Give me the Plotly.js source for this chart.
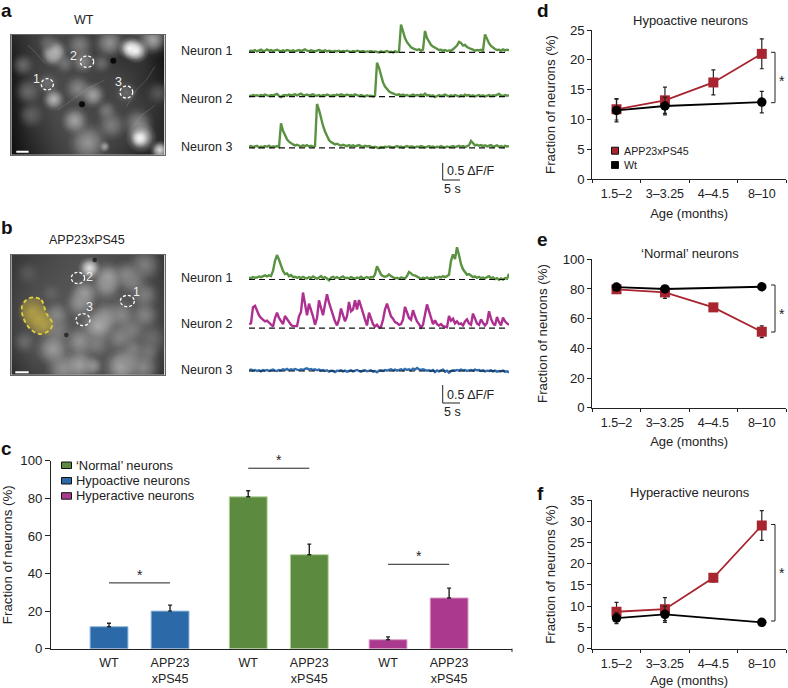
<!DOCTYPE html>
<html><head><meta charset="utf-8">
<script src="https://cdn.plot.ly/plotly-3.0.1.min.js"></script>
<style>html,body{margin:0;padding:0;background:#fff}</style></head>
<body><div id="chart" style="width:788px;height:688px"></div>
<script>
// ---------- DATA ----------
const ageGroups = ['1.5–2','3–3.25','4–4.5','8–10'];

const hypoApp = [11.7,13.2,16.2,21];      const hypoAppErr = [1.8,2.2,2.1,2.5];
const hypoWt  = [11.5,12.25,null,12.9];   const hypoWtErr  = [1.9,1.5,0,1.8];
const normApp = [79.8,77.7,67.6,51.2];    const normAppErr = [1.5,4,1.5,4];
const normWt  = [81.3,80,null,81.5];      const normWtErr  = [1,1,0,1];
const hyperApp = [8.7,9.3,16.7,29];       const hyperAppErr = [2.2,2.7,1,3.5];
const hyperWt  = [7.2,8.1,null,6.2];      const hyperWtErr  = [1.3,1.9,0,.7];

const barPositions = [1,2,3.28,4.28,5.57,6.57];
const barLabels = ['WT','APP23<br>xPS45','WT','APP23<br>xPS45','WT','APP23<br>xPS45'];
const hypoBars = [11.7,20];   const hypoBarsErr = [1.8,3.2];
const normBars = [80.8,50];   const normBarsErr = [3.2,5.6];
const hyperBars = [4.8,27];   const hyperBarsErr = [1.5,5.2];

// calcium traces, ΔF/F, one sample every 0.578 s
const sampleStep = 0.578;
const wtN1 = [.03,.05,.04,.07,.03,.06,.08,.04,.05,.09,.05,.07,.04,.06,.08,.05,.03,.06,.04,.07,.05,.04,.06,.03,.05,.07,.04,.06,.09,.05,.04,.06,.05,.03,.05,.07,.05,.04,.06,.03,.05,.04,.02,.04,.03,.05,.02,.04,.03,.05,.03,.01,.04,.02,.05,.03,.02,.04,.01,.03,.02,.04,.01,.03,.02,.00,.03,.01,.02,.04,.01,.02,.00,.03,.01,.02,.82,.6,.42,.3,.22,.15,.12,.1,.07,.09,.06,.08,.63,.42,.3,.22,.17,.13,.1,.07,.08,.05,.07,.04,.06,.05,.09,.16,.2,.31,.28,.2,.22,.16,.12,.1,.08,.05,.07,.06,.08,.05,.53,.38,.27,.19,.13,.1,.07,.08,.05,.09,.06,.08,.06];
const wtN2 = [.03,.02,.05,.03,.04,.02,.05,.03,.06,.04,.02,.05,.03,.06,.08,.02,-.01,.04,.05,.03,.06,.04,.05,.07,.04,.06,.09,.05,.04,.06,.03,.05,.07,.04,.03,.05,.02,.05,.03,.06,.04,.02,.05,.03,.06,.04,.07,.05,.03,.06,.04,.05,.03,.07,.04,.02,.05,.03,.01,.04,.02,.03,.01,.03,1.0,.85,.6,.42,.3,.22,.16,.12,.09,.07,.05,.07,.04,.06,.03,.05,.02,.04,.06,.03,.05,.03,.06,.04,.09,.03,.05,.02,.04,-.01,.03,.05,.02,.04,.06,.03,.01,.04,.02,.05,.03,.01,.04,.02,.06,.03,.05,.02,.04,.01,.03,.05,.02,.04,.01,.03,.05,.02,.04,.03,.06,.08,.04,.02,.05,.03,.04];
const wtN3 = [.03,.05,.02,.04,.06,.01,.04,.02,.05,.03,.06,.02,.04,.03,.05,.02,.72,.5,.35,.25,.18,.13,.1,.07,.09,.06,.04,.07,.05,.08,.04,.06,.03,.05,1.29,1.12,.85,.65,.48,.33,.23,.17,.13,.1,.12,.08,.06,.09,.07,.05,.08,.05,.07,.04,.06,.08,.05,.03,.06,.04,.05,.03,.01,.03,.02,-.01,.02,.01,.03,.02,.04,.02,.01,.03,.05,.02,.04,.01,.03,.05,.02,.04,.03,.01,.04,.02,.05,.03,.01,.03,.05,.02,.04,.01,.03,.02,.05,.03,.01,.04,.02,.03,.05,.02,.04,.06,.03,.05,.02,.04,.07,.2,.12,.07,.09,.06,.08,.05,.07,.04,.06,.08,.03,.05,.07,.03,.05,.02,.06,.04,.05];
const appN1 = [.05,.04,.07,.05,.06,.09,.07,.1,.12,.09,.12,.1,.25,.55,.72,.58,.4,.25,.16,.18,.1,.13,.07,.08,.05,.07,.04,.08,.05,.03,.07,.04,.09,.05,.02,.06,.1,.04,.07,.03,-.02,.05,.08,.04,.07,.03,.06,.09,.04,.05,.03,.07,.05,.02,.06,.04,.08,.03,.05,.07,.04,.07,.06,.15,.39,.25,.15,.1,.08,.1,.15,.1,.06,.03,.05,.02,.06,.04,.03,.1,.22,.18,.13,.12,.08,.06,.02,.05,.03,.06,.02,.05,.03,.07,.05,.08,.06,.1,.07,.1,.14,.55,.74,.6,.95,.72,.45,.3,.22,.14,.16,.1,.07,.09,.05,.08,.04,.06,.03,.07,.1,.04,.06,.01,.04,-.01,.03,.0,.04,.02,.17];
const appN2 = [.12,.15,.62,.66,.52,.38,.3,.26,.2,.22,.16,.13,.05,.3,.46,.3,.2,.12,.36,.28,.18,.1,.06,.05,.06,.35,.48,1.05,.72,.38,.72,.55,.35,.1,.3,.82,.6,.38,.7,1.0,.75,.55,.35,.2,.08,.25,.58,.42,.2,.35,.77,.5,.55,.82,.55,.83,.6,.45,.25,.08,.46,.3,.12,.05,.1,.02,.04,.25,.55,.72,.55,.35,.28,.18,.15,.1,.12,.25,.63,.45,.3,.25,.53,.35,.2,.12,.02,.1,.4,.7,.5,.3,.12,.23,.12,.08,.12,.06,.05,.03,.36,.22,.28,.14,.2,.12,.14,.08,.2,.26,.14,.1,.43,.3,.14,.1,.26,.16,.08,.15,.5,.28,.14,.08,.33,.18,.08,.31,.2,.14,.1];
const appN3 = [.02,.04,.01,.03,.0,.02,-.01,.03,.01,.03,.0,.02,.04,.01,.0,.03,.02,.05,.03,.06,.02,.05,.03,.06,.04,.02,.05,.03,.06,.08,.04,.06,.03,.05,.02,.04,.01,.03,.0,.02,-.02,.01,.0,-.03,.01,.0,.02,-.01,.01,-.02,.0,.02,-.01,.01,.03,.0,-.02,.01,.02,-.01,.01,.02,-.02,.0,-.04,.01,.02,.0,.03,.01,.03,.05,.02,.04,.01,.03,.05,.02,.06,.03,.05,.02,.07,.04,.09,.05,.03,.05,.02,.01,.02,.0,.03,-.03,.02,-.01,.02,.04,-.02,.01,-.05,.0,.02,.01,.03,.01,.04,.02,.03,.0,.02,.03,.01,.04,.02,.03,.0,.02,-.01,.01,.0,.02,-.01,.01,-.02,.0,-.01,.01,-.02,-.01,-.04];

// micrographs: coarse background brightness and bright cell bodies
const imgCols = [10,76,142,208,274,340,406,470];
const imgRows = [14,86,158,230,302,375];
const imgABack = [[40,62,72,66,62,62,85,55],[28,60,70,75,66,52,50,20],[24,66,75,70,66,70,50,30],[24,60,75,75,66,70,60,44],[20,50,70,80,75,70,55,40],[16,38,60,75,70,55,38,45]];
const imgBBack = [[55,66,75,80,80,75,70,55],[60,75,80,85,85,80,75,60],[65,80,85,85,90,90,80,65],[65,80,85,90,90,90,85,65],[60,80,85,90,90,90,85,65],[45,65,75,80,80,80,70,50]];
const cellsAX = [140,135,215,305,435,225,170,280,45,120,118,60,210,255,137,70,295,200,310,390,355,450,240,400,395,290,455,365,385];
const cellsAY = [65,75,45,38,30,95,100,100,105,40,160,185,175,195,208,255,242,272,285,280,188,190,338,322,325,350,360,55,62];
const cellsASize = [28,26,30,34,30,26,22,22,26,24,24,30,30,28,24,30,24,30,32,34,24,28,42,32,18,12,20,24,26];
const cellsAGray = [190,170,130,150,170,140,120,110,110,110,115,110,140,170,190,100,125,170,130,140,110,90,155,220,255,170,230,255,255];
const cellsBX = [245,300,295,355,375,410,230,215,410,145,295,340,410,270,148,370,335,430,215,265,135,50,375,420,165,215,255,340,360,405,130,60];
const cellsBY = [55,82,108,75,95,45,130,160,135,195,200,195,195,228,240,240,262,265,275,280,297,275,298,305,355,345,348,350,335,352,130,70];
const cellsBSize = [24,34,32,32,32,38,32,32,32,30,32,32,32,38,32,32,32,34,34,30,38,26,26,26,38,36,22,38,32,38,22,26];
const cellsBGray = [240,165,150,140,130,130,160,150,130,140,150,140,135,175,130,130,135,110,150,130,160,110,130,120,150,165,150,170,140,140,100,90];
const yellowCellX = [72,90,108];
const yellowCellY = [185,207,225];
const yellowOutlineX = [75,100,115,133,125,95,65,45,42,55,75];
const yellowOutlineY = [142,150,190,220,240,252,235,200,170,150,142];
const spotsAX = [316,222]; const spotsAY = [92,223];
const spotsBX = [175,260]; const spotsBY = [255,30];
const dendriteAX = [60,85,110,null,440,415,385,355,null,150,200,240,290,null,375,400,430,440];
const dendriteAY = [45,70,100,null,110,150,180,230,null,240,205,175,150,null,290,255,235,225];

// ---------- LAYOUT HELPERS (pixel to paper) ----------
const W = 788, H = 688;
const fx = x => x / W, fy = y => 1 - y / H;
const TXT = '#222', FONT = 'Liberation Sans, Arial, sans-serif', FS = 12.5;
const GREEN = '#5a9242', PINK = '#ad2f90', BLUE = '#2f6db0', RED = '#a8242f';
const layout = {width:W, height:H, margin:{l:0,r:0,t:0,b:0}, paper_bgcolor:'#fff', plot_bgcolor:'rgba(0,0,0,0)',
  showlegend:false, barmode:'overlay', font:{family:FONT,size:FS,color:TXT}, annotations:[], shapes:[]};
const data = [];
const text = (x,y,t,o={}) => layout.annotations.push(Object.assign({xref:'paper',yref:'paper',x:fx(x),y:fy(y),text:t,showarrow:false,
  xanchor:'left',yanchor:'middle',font:{family:FONT,size:FS,color:TXT},borderpad:0},o));
const pline = (x0,y0,x1,y1,c='#222',w=1) => layout.shapes.push({type:'line',xref:'paper',yref:'paper',x0:fx(x0),y0:fy(y0),x1:fx(x1),y1:fy(y1),line:{color:c,width:w}});
let axisIdx = 0;
function addAxes(px0,px1,pyTop,pyBottom,xo,yo){
  axisIdx++;
  const s = axisIdx === 1 ? '' : axisIdx;
  layout['xaxis'+s] = Object.assign({domain:[fx(px0),fx(px1)],anchor:'y'+s,showgrid:false,zeroline:false},xo);
  layout['yaxis'+s] = Object.assign({domain:[fy(pyBottom),fy(pyTop)],anchor:'x'+s,showgrid:false,zeroline:false},yo);
  return {x:'x'+s,y:'y'+s};
}

// ---------- MICROGRAPHS ----------
const grayOf = g => `rgb(${g},${g},${g})`;
const clearOf = g => `rgba(${g},${g},${g},0)`;
function micrograph(top,bottom,back,cx,cy,cs,cg,sx,sy,spotSize,spotColor){
  const frame = {showline:true,mirror:true,linecolor:'#666',linewidth:1,showticklabels:false,ticks:''};
  const a = addAxes(11.3,164.7,top,bottom,Object.assign({range:[10,470]},frame),Object.assign({range:[375,14]},frame));
  data.push({type:'heatmap',x:imgCols,y:imgRows,z:back,zmin:0,zmax:255,zsmooth:'best',showscale:false,hoverinfo:'skip',
    colorscale:[[0,'#000'],[1,'#fff']],xaxis:a.x,yaxis:a.y});
  // outer soft halo, then a tighter core so each cell body has a flat top and a clearer edge
  [1,.72].forEach(k=>data.push({type:'scatter',mode:'markers',x:cx,y:cy,xaxis:a.x,yaxis:a.y,hoverinfo:'skip',
    marker:{size:cs.map(s=>s*k),color:cg.map(clearOf),line:{width:0},gradient:{type:'radial',color:cg.map(grayOf)}}}));
  data.push({type:'scatter',mode:'markers',x:sx,y:sy,xaxis:a.x,yaxis:a.y,hoverinfo:'skip',marker:{size:spotSize,color:spotColor}});
  return a;
}
function roi(a,cx,cy,rx,ry,label,lx,ly){
  layout.shapes.push({type:'circle',xref:a.x,yref:a.y,x0:cx-rx,x1:cx+rx,y0:cy-ry,y1:cy+ry,line:{color:'#fff',width:1.3,dash:'3px,2px'}});
  layout.annotations.push({xref:a.x,yref:a.y,x:lx,y:ly,text:label,showarrow:false,font:{family:FONT,size:12.5,color:'#eee'}});
}
const imgA = micrograph(34.7,155,imgABack,cellsAX,cellsAY,cellsASize,cellsAGray,spotsAX,spotsAY,6,'#0a0a0a');
data.push({type:'scatter',mode:'lines',x:dendriteAX,y:dendriteAY,xaxis:imgA.x,yaxis:imgA.y,hoverinfo:'skip',line:{color:'rgba(170,170,170,.28)',width:1}});
roi(imgA,118,163,18,17,'1',87,147); roi(imgA,237,95,20,17,'2',198,78); roi(imgA,355,186,19,18,'3',330,155);
layout.shapes.push({type:'line',xref:imgA.x,yref:imgA.y,x0:25,x1:62,y0:365,y1:365,line:{color:'#fff',width:2}});
const imgB = micrograph(254.7,375,imgBBack,cellsBX,cellsBY,cellsBSize,cellsBGray,spotsBX,spotsBY,4.5,'rgba(25,25,25,.75)');
data.push({type:'scatter',mode:'lines',x:yellowOutlineX,y:yellowOutlineY,xaxis:imgB.x,yaxis:imgB.y,hoverinfo:'skip',fill:'toself',
  fillcolor:'rgba(150,135,70,.55)',line:{color:'#e6d83c',width:1.8,dash:'4px,3px',shape:'spline'}});
data.push({type:'scatter',mode:'markers',x:yellowCellX,y:yellowCellY,xaxis:imgB.x,yaxis:imgB.y,hoverinfo:'skip',
  marker:{size:[30,30,26],color:'rgba(190,170,70,0)',line:{width:0},gradient:{type:'radial',color:'rgb(190,170,70)'}}});
roi(imgB,358,153,21,17,'1',385,127); roi(imgB,210,84,20,17,'2',245,82); roi(imgB,225,209,21,18,'3',245,172);
layout.shapes.push({type:'line',xref:imgB.x,yref:imgB.y,x0:22,x1:62,y0:367,y1:367,line:{color:'#fff',width:2}});

// ---------- CALCIUM TRACES ----------
const pxPerUnit = 34;
function neuronTrace(baseY,vals,color){
  const a = addAxes(249,509,baseY-1.4*pxPerUnit,baseY+.25*pxPerUnit,
    {visible:false,range:[0,130*sampleStep]},{visible:false,range:[-.25,1.4]});
  const t = vals.map((_,i)=>i*sampleStep);
  data.push({type:'scatter',mode:'lines',x:t,y:vals,xaxis:a.x,yaxis:a.y,line:{color:color,width:2.4},hoverinfo:'skip'});
  data.push({type:'scatter',mode:'lines',x:[0,t[t.length-1]],y:[0,0],xaxis:a.x,yaxis:a.y,line:{color:'#111',width:1.2,dash:'6px,4px'},hoverinfo:'skip'});
}
neuronTrace(52.4,wtN1,GREEN);
neuronTrace(96.7,wtN2,GREEN);
neuronTrace(147.8,wtN3,GREEN);
neuronTrace(279.5,appN1,GREEN);
neuronTrace(328.2,appN2,PINK);
neuronTrace(371,appN3,BLUE);

text(84,20,'WT',{xanchor:'center'});
text(87,240,'APP23xPS45',{xanchor:'center'});
[[51,'Neuron 1'],[99,'Neuron 2'],[147,'Neuron 3'],[278,'Neuron 1'],[324,'Neuron 2'],[370,'Neuron 3']].forEach(r=>text(179.7,r[0],r[1]));
[[163,180],[385,403]].forEach(r=>{
  pline(442.7,r[0],442.7,r[1]); pline(442.7,r[1],460,r[1]);
  text(446,r[1]-8.5,'0.5 ΔF/F'); text(443,r[1]+8.5,'5 s');
});

// ---------- BAR CHART (c) ----------
const axisLine = {showline:true,linecolor:'#222',linewidth:1,tickcolor:'#222',tickwidth:1,
  tickfont:{family:FONT,size:FS,color:TXT}};
const ytickfont = {family:FONT,size:13.2,color:TXT};
const ytitle = {text:'Fraction of neurons (%)',font:{family:FONT,size:13.3,color:TXT}};
const bar = addAxes(51,512,460.7,648.7,
  Object.assign({},axisLine,{range:[.05,7.6],tickmode:'array',tickvals:barPositions,ticktext:barLabels,ticks:'',ticklabelstandoff:2}),
  Object.assign({},axisLine,{range:[0,100],dtick:20,ticks:'outside',ticklen:5,tickfont:ytickfont,title:Object.assign({},ytitle,{standoff:13})}));
function barGroup(name,pos,vals,errs,color,edge){
  data.push({type:'bar',name:name,x:pos,y:vals,width:.62,xaxis:bar.x,yaxis:bar.y,hoverinfo:'skip',
    marker:{color:color,line:{color:edge,width:1}},
    error_y:{type:'data',symmetric:false,array:errs,arrayminus:errs.map(()=>0),color:'#222',thickness:1.4,width:2}});
}
const BARBLUE='#2b69a8', BARGREEN='#5c8a3e', BARPINK='#ab3a8e';
barGroup('Hypoactive neurons',barPositions.slice(0,2),hypoBars,hypoBarsErr,BARBLUE,'#8fb8dc');
barGroup("'Normal' neurons",barPositions.slice(2,4),normBars,normBarsErr,BARGREEN,'#b5d3a0');
barGroup('Hyperactive neurons',barPositions.slice(4,6),hyperBars,hyperBarsErr,BARPINK,'#dca0cc');
pline(512,648.7,512,652);
[[barPositions[0],barPositions[1],35],[barPositions[2],barPositions[3],96],[barPositions[4],barPositions[5],44.9]].forEach(s=>{
  layout.shapes.push({type:'line',xref:bar.x,yref:bar.y,x0:s[0],x1:s[1],y0:s[2],y1:s[2],line:{color:'#222',width:1}});
  layout.annotations.push({xref:bar.x,yref:bar.y,x:(s[0]+s[1])/2,y:s[2],yshift:8,text:'*',showarrow:false,font:{family:FONT,size:14,color:TXT}});
});
[["‘Normal’ neurons",BARGREEN,465],['Hypoactive neurons',BARBLUE,480.5],['Hyperactive neurons',BARPINK,495.7]].forEach(l=>{
  layout.shapes.push({type:'rect',xref:'paper',yref:'paper',x0:fx(61.5),x1:fx(71.5),y0:fy(l[2]-3),y1:fy(l[2]+3.5),fillcolor:l[1],line:{color:'#111',width:1}});
  text(75,l[2],l[0],{font:{family:FONT,size:12.9,color:TXT}});
});

// ---------- AGE LINE CHARTS (d, e, f) ----------
function ageChart(top,bottom,yMax,dtick,app,appErr,wt,wtErr,title,titleX,titleY){
  const a = addAxes(592.3,786,top,bottom,
    Object.assign({},axisLine,{type:'category',categories:ageGroups,categoryorder:'array',categoryarray:ageGroups,range:[-.5,3.5],tickson:'boundaries',ticks:'outside',ticklen:3,ticklabelstandoff:3,
      title:{text:'Age (months)',font:{family:FONT,size:13,color:TXT},standoff:8}}),
    Object.assign({},axisLine,{range:[0,yMax],dtick:dtick,ticks:'outside',ticklen:4,tickfont:ytickfont,title:Object.assign({},ytitle,{standoff:11})}));
  const err = e => ({type:'data',array:e,color:'#222',thickness:1.2,width:2});
  data.push({type:'scatter',mode:'lines+markers',name:'APP23xPS45',x:ageGroups,y:app,xaxis:a.x,yaxis:a.y,hoverinfo:'skip',cliponaxis:false,
    line:{color:RED,width:1.8},marker:{symbol:'square',size:10,color:RED},error_y:err(appErr)});
  data.push({type:'scatter',mode:'lines+markers',name:'Wt',x:ageGroups,y:wt,xaxis:a.x,yaxis:a.y,hoverinfo:'skip',cliponaxis:false,connectgaps:true,
    line:{color:'#000',width:1.8},marker:{symbol:'circle',size:9.5,color:'#000'},error_y:err(wtErr)});
  text(titleX,titleY,title,{xanchor:'center',font:{family:FONT,size:13,color:TXT}});
}
ageChart(30,179,25,5,hypoApp,hypoAppErr,hypoWt,hypoWtErr,'Hypoactive neurons',690,21);
ageChart(259.3,407.7,100,20,normApp,normAppErr,normWt,normWtErr,'‘Normal’ neurons',690,253);
ageChart(500,648.7,35,5,hyperApp,hyperAppErr,hyperWt,hyperWtErr,'Hyperactive neurons',690,492);
[[52.3,102.7,79],[285,332,312],[524.5,621,571]].forEach(b=>{
  layout.shapes.push({type:'path',xref:'paper',yref:'paper',line:{color:'#222',width:1},
    path:`M ${fx(771)} ${fy(b[0])} L ${fx(775)} ${fy(b[0])} L ${fx(775)} ${fy(b[1])} L ${fx(771)} ${fy(b[1])}`});
  text(782,b[2]+2,'*',{xanchor:'center',font:{family:FONT,size:14,color:TXT}});
});
[['APP23xPS45',RED,150.7],['Wt','#000',165]].forEach(l=>{
  layout.shapes.push({type:'rect',xref:'paper',yref:'paper',x0:fx(611.5),x1:fx(618.5),y0:fy(l[2]-3.5),y1:fy(l[2]+3.5),fillcolor:l[1],line:{color:'#111',width:1}});
  text(623,l[2],l[0],{font:{family:FONT,size:10.7,color:TXT}});
});

// ---------- PANEL LETTERS ----------
[['a',0,10],['b',0,228],['c',0,448],['d',536,10],['e',536,240],['f',536,493]].forEach(p=>
  text(p[1],p[2],'<b>'+p[0]+'</b>',{font:{family:FONT,size:19,color:'#111'}}));

Plotly.newPlot('chart',data,layout,{displayModeBar:false,staticPlot:true});
</script></body></html>
